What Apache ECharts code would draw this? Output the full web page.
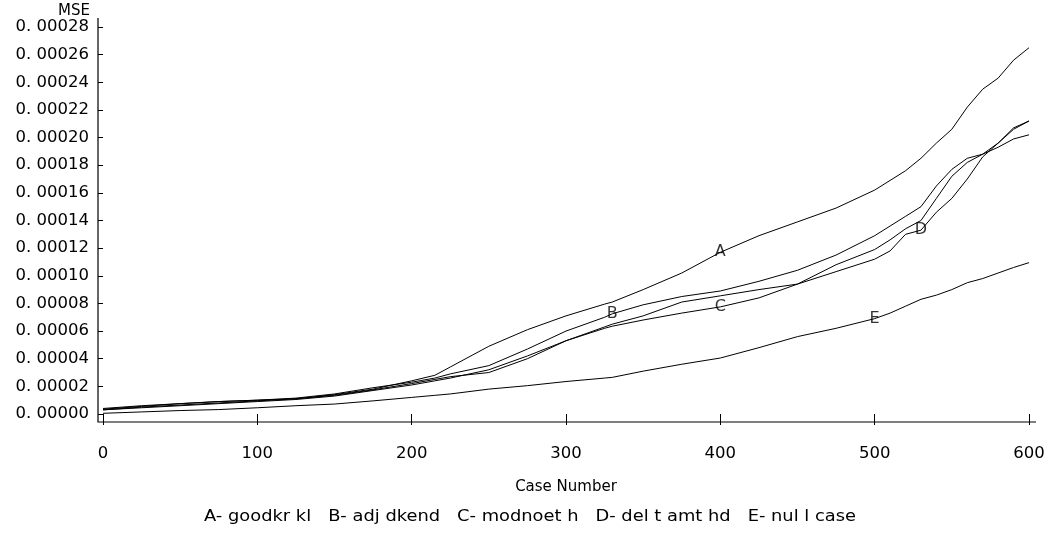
<!DOCTYPE html>
<html>
<head>
<meta charset="utf-8">
<title>MSE by Case Number</title>
<script src="https://cdn.jsdelivr.net/npm/echarts@6/dist/echarts.min.js"></script>
<style>
  html, body { margin: 0; padding: 0; background: #ffffff; }
  #chart { width: 1052px; height: 533px; }
</style>
</head>
<body>
<div id="chart"></div>
<script>
// Case numbers at which each curve is sampled
const caseNumbers = [0, 25, 50, 75, 100, 125, 150, 175, 200, 215, 225, 250, 275, 300, 325, 330, 350, 375, 400, 425, 450, 475, 500, 510, 520, 530, 540, 550, 560, 570, 580, 590, 600];

// MSE values, in units of 1e-5
const mseA = [0.40, 0.60, 0.75, 0.90, 1.00, 1.10, 1.40, 1.80, 2.40, 2.80, 3.40, 4.90, 6.10, 7.10, 7.95, 8.10, 9.00, 10.20, 11.70, 12.90, 13.90, 14.90, 16.20, 16.90, 17.60, 18.50, 19.60, 20.60, 22.20, 23.50, 24.30, 25.60, 26.50];
const mseB = [0.35, 0.55, 0.75, 0.90, 1.00, 1.15, 1.45, 1.90, 2.30, 2.60, 2.90, 3.50, 4.70, 6.00, 7.00, 7.25, 7.90, 8.50, 8.90, 9.60, 10.40, 11.50, 12.90, 13.60, 14.30, 15.00, 16.50, 17.70, 18.50, 18.80, 19.30, 19.90, 20.20];
const mseC = [0.30, 0.45, 0.60, 0.75, 0.90, 1.05, 1.30, 1.70, 2.10, 2.40, 2.60, 3.20, 4.20, 5.30, 6.20, 6.35, 6.80, 7.30, 7.75, 8.40, 9.40, 10.80, 11.90, 12.60, 13.40, 14.00, 15.60, 17.20, 18.20, 18.80, 19.60, 20.60, 21.20];
const mseD = [0.30, 0.50, 0.65, 0.80, 0.95, 1.10, 1.35, 1.75, 2.20, 2.50, 2.70, 3.00, 4.00, 5.30, 6.30, 6.50, 7.10, 8.10, 8.55, 9.00, 9.40, 10.30, 11.20, 11.80, 13.00, 13.30, 14.60, 15.60, 17.00, 18.60, 19.60, 20.70, 21.20];
const mseE = [0.05, 0.15, 0.25, 0.32, 0.45, 0.60, 0.72, 0.95, 1.20, 1.35, 1.45, 1.80, 2.05, 2.35, 2.60, 2.65, 3.10, 3.60, 4.05, 4.80, 5.60, 6.20, 6.90, 7.30, 7.80, 8.30, 8.60, 9.00, 9.50, 9.80, 10.20, 10.60, 10.95];

// Curve letters and the case number where each letter sits on its curve
const curveLetters = ['A', 'B', 'C', 'D', 'E'];
const letterCases = [400, 330, 400, 530, 500];
const curveValues = [mseA, mseB, mseC, mseD, mseE];

// Axis settings
const xTicks = [0, 100, 200, 300, 400, 500, 600];
const yMax = 28;
const yStep = 2;

const footnote = 'A- goodkr kl   B- adj dkend   C- modnoet h   D- del t amt hd   E- nul l case';

const FONT = 'DejaVu Sans';
const INK = '#000000';

const chart = echarts.init(document.getElementById('chart'), null, { renderer: 'canvas' });

const lineSeries = curveValues.map((vals, i) => ({
  type: 'line',
  name: curveLetters[i],
  data: caseNumbers.map((c, k) => [c, vals[k]]),
  symbol: 'none',
  lineStyle: { color: INK, width: 1 },
  silent: true,
  z: 2
}));

const letterSeries = {
  type: 'scatter',
  data: curveLetters.map((letter, i) => {
    const k = caseNumbers.indexOf(letterCases[i]);
    return { value: [letterCases[i], curveValues[i][k]], name: letter };
  }),
  symbol: 'circle',
  symbolSize: 1,
  itemStyle: { color: 'transparent' },
  label: {
    show: true,
    position: 'inside',
    formatter: p => p.name,
    color: INK,
    fontFamily: FONT,
    fontSize: 16
  },
  silent: true,
  z: 3
};

chart.setOption({
  animation: false,
  backgroundColor: '#ffffff',
  grid: { left: 103, right: 23, top: 27, bottom: 119, containLabel: false },
  xAxis: {
    type: 'value',
    min: xTicks[0],
    max: xTicks[xTicks.length - 1],
    interval: 100,
    offset: 8,
    name: 'Case Number',
    nameLocation: 'middle',
    nameGap: 58,
    nameTextStyle: { color: INK, fontFamily: FONT, fontSize: 15 },
    axisLine: { show: false },
    axisTick: { show: true, inside: false, length: 11, lineStyle: { color: INK, width: 1 } },
    axisLabel: { color: INK, fontFamily: FONT, fontSize: 16.5, margin: 23 },
    splitLine: { show: false }
  },
  yAxis: {
    type: 'value',
    min: 0,
    max: yMax,
    interval: yStep,
    offset: 5,
    name: 'MSE',
    nameLocation: 'end',
    nameGap: 6,
    nameTextStyle: { color: INK, fontFamily: FONT, fontSize: 15, align: 'right', padding: [0, 13, 0, 0] },
    axisLine: { show: false },
    axisTick: { show: true, inside: false, length: 5, lineStyle: { color: INK, width: 1 } },
    axisLabel: {
      color: INK, fontFamily: FONT, fontSize: 16.5, margin: 9,
      formatter: v => (v * 1e-5).toFixed(5).replace('0.', '0. ')
    },
    splitLine: { show: false }
  },
  series: lineSeries.concat([letterSeries])
});

// Axis frame lines that run slightly past the plotting area, meeting at the corner
const origin = chart.convertToPixel({ gridIndex: 0 }, [xTicks[0], 0]);
const far = chart.convertToPixel({ gridIndex: 0 }, [xTicks[xTicks.length - 1], yMax]);
const axisX = origin[0] - 5;
const axisY = origin[1] + 8;
chart.setOption({
  graphic: [
    {
      type: 'polyline',
      shape: { points: [[axisX, far[1] - 9], [axisX, axisY], [far[0] + 7, axisY]] },
      style: { stroke: INK, lineWidth: 1.2, fill: null },
      silent: true,
      z: 5
    },
    {
      // footnote, centred under the chart and drawn a little wide
      type: 'text',
      x: 530,
      y: 517,
      scaleX: 1.19,
      style: { text: footnote, fill: INK, font: '15px "' + FONT + '"', textAlign: 'center', textVerticalAlign: 'middle' },
      silent: true
    }
  ]
});
</script>
</body>
</html>
